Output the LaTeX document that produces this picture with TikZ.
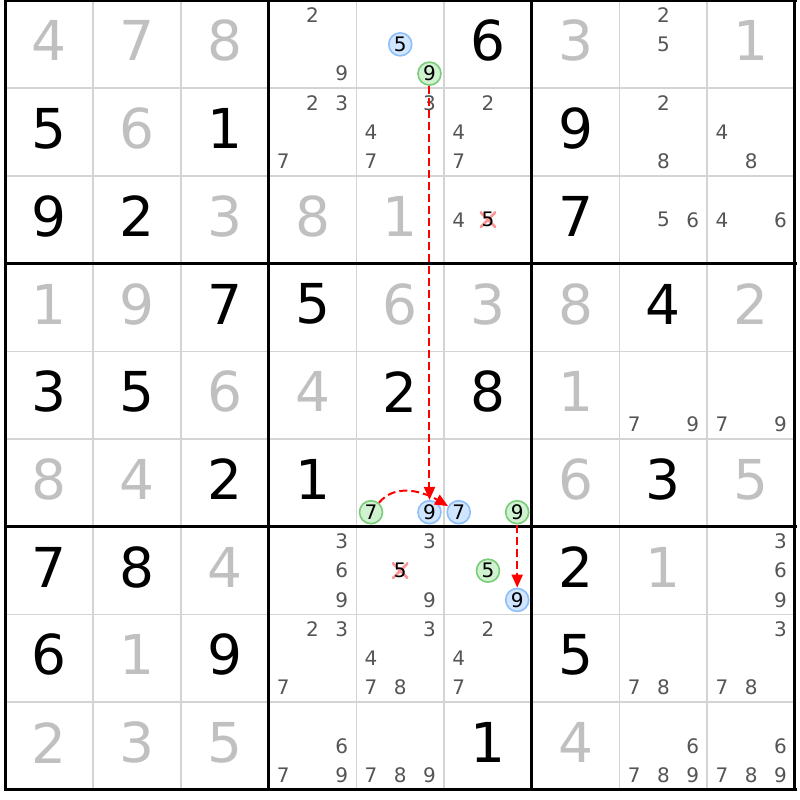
\documentclass[tikz,border=0pt]{standalone}
\usepackage{fontspec}
\setmainfont{DejaVu Sans}
\usetikzlibrary{arrows.meta}
\definecolor{givgray}{RGB}{192,192,192}
\definecolor{candgray}{RGB}{85,85,85}
\definecolor{thingrid}{RGB}{212,212,212}
\definecolor{bluefill}{RGB}{208,230,255}
\definecolor{blueline}{RGB}{140,190,250}
\definecolor{greenfill}{RGB}{208,242,208}
\definecolor{greenline}{RGB}{120,205,120}
\definecolor{xred}{RGB}{250,150,150}
\definecolor{arrred}{RGB}{255,0,0}
\tikzset{
  bigdigit/.style={inner sep=0pt,font=\fontsize{55}{55}\selectfont,yshift=3.5pt},
  givd/.style={text=givgray},
  solvd/.style={text=black},
  cand/.style={inner sep=0pt,font=\fontsize{20}{20}\selectfont,text=candgray},
  bluec/.style={circle,fill=bluefill,draw=blueline,line width=1.6pt,minimum size=23pt,text=black},
  greenc/.style={circle,fill=greenfill,draw=greenline,line width=1.6pt,minimum size=23pt,text=black},
  elim/.style={text=black,minimum size=16pt,path picture={
     \draw[xred,line width=2.6pt]
       (path picture bounding box.south west) -- (path picture bounding box.north east)
       (path picture bounding box.north west) -- (path picture bounding box.south east);}},
  thinline/.style={thingrid,line width=1.7pt},
  thickline/.style={black,line width=3pt},
  redarrow/.style={draw=arrred,line width=2pt,dash pattern=on 8pt off 4pt,
     -{Triangle[length=13pt,width=11pt,fill=arrred]}},
}
\newcommand\BigDigit[4]{%
  \node[bigdigit,#4] (d#1#2) at ({5.5+(#2+0.5)*87.72},{-(0.5+(#1+0.5)*87.72)}) {#3};}
\newcommand\Cand[4]{%
  \pgfmathtruncatemacro\candx{mod(#3-1,3)}%
  \pgfmathtruncatemacro\candy{floor((#3-1)/3)}%
  \node[cand,#4] (c#1#2#3) at ({5.5+#2*87.72+(\candx+0.5)*29.24},{-(0.5+#1*87.72+(\candy+0.5)*29.24)}) {#3};}
\newcommand\CandList[3]{%
  \foreach \dd in {#3} {\Cand{#1}{#2}{\dd}{}}}
\begin{document}
\begin{tikzpicture}[x=1pt,y=1pt]
\useasboundingbox (0,0) rectangle (800,-800);
\fill[white] (0,0) rectangle (800,-800);
% thin grid
\foreach \i in {1,2,4,5,7,8} {
  \draw[thinline] ({5.5+\i*87.72},-0.5) -- ({5.5+\i*87.72},-790);
  \draw[thinline] (5.5,{-(0.5+\i*87.72)}) -- (795,{-(0.5+\i*87.72)});
}
% thick grid
\foreach \i in {0,3,6,9} {
  \draw[thickline] ({5.5+\i*87.72},0.5) -- ({5.5+\i*87.72},-790);
  \draw[thickline] (4,{-(0.5+\i*87.72)}) -- (796.5,{-(0.5+\i*87.72)});
}
% row 0
\BigDigit{0}{0}{4}{givd}\BigDigit{0}{1}{7}{givd}\BigDigit{0}{2}{8}{givd}
\CandList{0}{3}{2,9}
\Cand{0}{4}{5}{bluec}\Cand{0}{4}{9}{greenc}
\BigDigit{0}{5}{6}{solvd}\BigDigit{0}{6}{3}{givd}
\CandList{0}{7}{2,5}
\BigDigit{0}{8}{1}{givd}
% row 1
\BigDigit{1}{0}{5}{solvd}\BigDigit{1}{1}{6}{givd}\BigDigit{1}{2}{1}{solvd}
\CandList{1}{3}{2,3,7}\CandList{1}{4}{3,4,7}\CandList{1}{5}{2,4,7}
\BigDigit{1}{6}{9}{solvd}
\CandList{1}{7}{2,8}\CandList{1}{8}{4,8}
% row 2
\BigDigit{2}{0}{9}{solvd}\BigDigit{2}{1}{2}{solvd}\BigDigit{2}{2}{3}{givd}
\BigDigit{2}{3}{8}{givd}\BigDigit{2}{4}{1}{givd}
\Cand{2}{5}{4}{}\Cand{2}{5}{5}{elim}
\BigDigit{2}{6}{7}{solvd}
\CandList{2}{7}{5,6}\CandList{2}{8}{4,6}
% row 3
\BigDigit{3}{0}{1}{givd}\BigDigit{3}{1}{9}{givd}\BigDigit{3}{2}{7}{solvd}
\BigDigit{3}{3}{5}{solvd}\BigDigit{3}{4}{6}{givd}\BigDigit{3}{5}{3}{givd}
\BigDigit{3}{6}{8}{givd}\BigDigit{3}{7}{4}{solvd}\BigDigit{3}{8}{2}{givd}
% row 4
\BigDigit{4}{0}{3}{solvd}\BigDigit{4}{1}{5}{solvd}\BigDigit{4}{2}{6}{givd}
\BigDigit{4}{3}{4}{givd}\BigDigit{4}{4}{2}{solvd}\BigDigit{4}{5}{8}{solvd}
\BigDigit{4}{6}{1}{givd}
\CandList{4}{7}{7,9}\CandList{4}{8}{7,9}
% row 5
\BigDigit{5}{0}{8}{givd}\BigDigit{5}{1}{4}{givd}\BigDigit{5}{2}{2}{solvd}
\BigDigit{5}{3}{1}{solvd}
\Cand{5}{4}{7}{greenc}\Cand{5}{4}{9}{bluec}
\Cand{5}{5}{7}{bluec}\Cand{5}{5}{9}{greenc}
\BigDigit{5}{6}{6}{givd}\BigDigit{5}{7}{3}{solvd}\BigDigit{5}{8}{5}{givd}
% row 6
\BigDigit{6}{0}{7}{solvd}\BigDigit{6}{1}{8}{solvd}\BigDigit{6}{2}{4}{givd}
\CandList{6}{3}{3,6,9}
\Cand{6}{4}{3}{}\Cand{6}{4}{5}{elim}\Cand{6}{4}{9}{}
\Cand{6}{5}{5}{greenc}\Cand{6}{5}{9}{bluec}
\BigDigit{6}{6}{2}{solvd}\BigDigit{6}{7}{1}{givd}
\CandList{6}{8}{3,6,9}
% row 7
\BigDigit{7}{0}{6}{solvd}\BigDigit{7}{1}{1}{givd}\BigDigit{7}{2}{9}{solvd}
\CandList{7}{3}{2,3,7}\CandList{7}{4}{3,4,7,8}\CandList{7}{5}{2,4,7}
\BigDigit{7}{6}{5}{solvd}
\CandList{7}{7}{7,8}\CandList{7}{8}{3,7,8}
% row 8
\BigDigit{8}{0}{2}{givd}\BigDigit{8}{1}{3}{givd}\BigDigit{8}{2}{5}{givd}
\CandList{8}{3}{6,7,9}\CandList{8}{4}{7,8,9}
\BigDigit{8}{5}{1}{solvd}\BigDigit{8}{6}{4}{givd}
\CandList{8}{7}{6,7,8,9}\CandList{8}{8}{6,7,8,9}
% links
\draw[redarrow] (c049.south) -- (c549.north);
\draw[redarrow] (c547) to[out=50,in=150] (c557);
\draw[redarrow] (c559.south) -- (c659.north);
\end{tikzpicture}
\end{document}
